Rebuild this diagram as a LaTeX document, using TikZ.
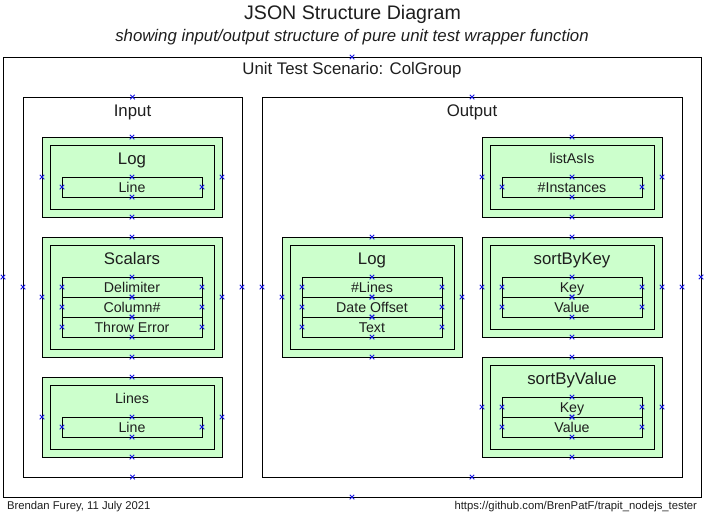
\documentclass[tikz,border=0pt]{standalone}
\usepackage{fontspec}
\setmainfont{Liberation Sans}
\usetikzlibrary{shapes.misc}
\definecolor{grp}{RGB}{204,255,204}
\definecolor{txt}{RGB}{30,30,30}
\definecolor{xblue}{RGB}{20,20,230}
\newcommand\dgTitle{\fontsize{19.6}{23}\selectfont}
\newcommand\dgSub{\fontsize{16.8}{20}\selectfont}
\newcommand\dgBig{\fontsize{16.8}{20}\selectfont}
\newcommand\dgSmall{\fontsize{14.2}{17}\selectfont}
\newcommand\dgFoot{\fontsize{11.3}{13}\selectfont}
\begin{document}
\begin{tikzpicture}[x=1pt,y=-1pt,
  every node/.style={inner sep=0pt, outer sep=0pt, text=txt},
  frame/.style={draw=black, line width=1pt},
  grpbox/.style={frame, fill=grp, minimum width=180pt},
  innerbox/.style={frame, minimum width=164pt},
  field/.style={frame, minimum width=140pt, minimum height=20pt, text height=10.3pt, text depth=0pt, font=\dgSmall},
  biglab/.style={anchor=base, font=\dgBig},
  smalllab/.style={anchor=base, font=\dgSmall},
  xm/.style={cross out, draw=xblue, line width=0.8pt, minimum size=4.5pt},
]
\useasboundingbox (0,0) rectangle (705,517);

% titles
\node[anchor=base, font=\dgTitle] (title) at (352.5,19.5) {JSON Structure Diagram};
\node[anchor=base, font=\dgSub\itshape] (subtitle) at (352,41) {showing input/output structure of pure unit test wrapper function};

% scenario
\node[frame, minimum width=698pt, minimum height=440pt] (scen) at (352,277) {};
\node[biglab] (scenlab) at (352,74) {Unit Test Scenario: ColGroup};

% input / output
\node[frame, minimum width=219pt, minimum height=380pt] (inp) at (132.5,287) {};
\node[biglab] (inplab) at (132.5,116) {Input};
\node[frame, minimum width=420pt, minimum height=380pt] (outp) at (472,287) {};
\node[biglab] (outplab) at (472,116) {Output};

% Input: Log
\node[grpbox, minimum height=80pt] (inLog) at (132,177) {};
\node[innerbox, minimum height=64pt] (inLogI) at (132,177) {};
\node[biglab] (inLogL) at (132,164) {Log};
\node[field] (inLogF1) at (132,187) {Line};

% Input: Scalars
\node[grpbox, minimum height=120pt] (scal) at (132,297) {};
\node[innerbox, minimum height=104pt] (scalI) at (132,297) {};
\node[biglab] (scalL) at (132,264) {Scalars};
\node[field] (scalF1) at (132,287) {Delimiter};
\node[field] (scalF2) at (132,307) {Column\#};
\node[field] (scalF3) at (132,327) {Throw Error};

% Input: Lines
\node[grpbox, minimum height=80pt] (lines) at (132,417) {};
\node[innerbox, minimum height=64pt] (linesI) at (132,417) {};
\node[smalllab] (linesL) at (132,403.5) {Lines};
\node[field] (linesF1) at (132,427) {Line};

% Output: Log
\node[grpbox, minimum height=120pt] (outLog) at (372,297) {};
\node[innerbox, minimum height=104pt] (outLogI) at (372,297) {};
\node[biglab] (outLogL) at (372,264) {Log};
\node[field] (outLogF1) at (372,287) {\#Lines};
\node[field] (outLogF2) at (372,307) {Date Offset};
\node[field] (outLogF3) at (372,327) {Text};

% Output: listAsIs
\node[grpbox, minimum height=80pt] (listA) at (572,177) {};
\node[innerbox, minimum height=64pt] (listAI) at (572,177) {};
\node[smalllab] (listAL) at (572,163.5) {listAsIs};
\node[field] (listAF1) at (572,187) {\#Instances};

% Output: sortByKey
\node[grpbox, minimum height=100pt] (sbk) at (572,287) {};
\node[innerbox, minimum height=84pt] (sbkI) at (572,287) {};
\node[biglab] (sbkL) at (572,264) {sortByKey};
\node[field] (sbkF1) at (572,287) {Key};
\node[field] (sbkF2) at (572,307) {Value};

% Output: sortByValue
\node[grpbox, minimum height=100pt] (sbv) at (572,407) {};
\node[innerbox, minimum height=84pt] (sbvI) at (572,407) {};
\node[biglab] (sbvL) at (572,384) {sortByValue};
\node[field] (sbvF1) at (572,407) {Key};
\node[field] (sbvF2) at (572,427) {Value};

% connection markers
\foreach \n in {scen,inp,outp,inLog,inLogF1,scal,scalF1,scalF2,scalF3,lines,linesF1,outLog,outLogF1,outLogF2,outLogF3,listA,listAF1,sbk,sbkF1,sbkF2,sbv,sbvF1,sbvF2}
  \foreach \a in {north,south,east,west}
    \node[xm] (x-\n-\a) at (\n.\a) {};

% footer
\node[anchor=base west, font=\dgFoot] (footl) at (7,509) {Brendan Furey, 11 July 2021};
\node[anchor=base east, font=\dgFoot] (footr) at (697,509) {https://github.com/BrenPatF/trapit\_nodejs\_tester};
\end{tikzpicture}
\end{document}
